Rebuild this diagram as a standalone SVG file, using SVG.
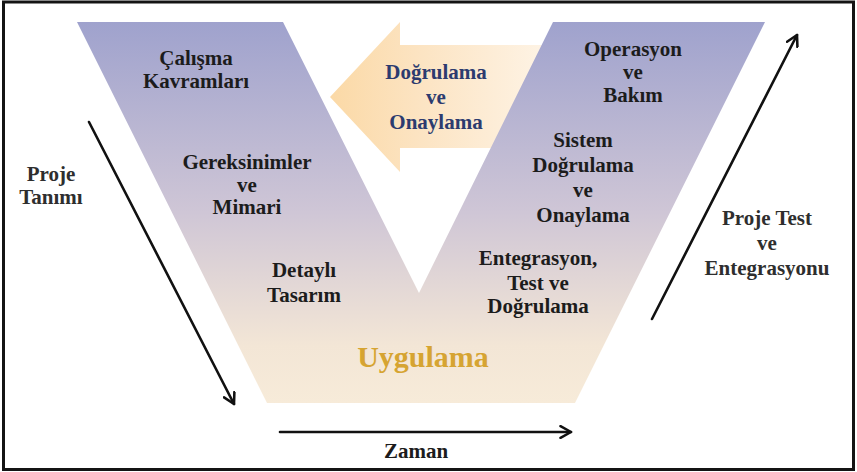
<svg xmlns="http://www.w3.org/2000/svg" width="857" height="472" viewBox="0 0 857 472">
  <style>
    .lbl { font-family: "Liberation Serif", "Times New Roman", serif; font-weight: bold; font-size: 21px; text-anchor: middle; fill: #1c1c1c; }
    .side { fill: #2e2e2e; }
    .blue { fill: #2c3b6f; }
    .gold { fill: #d6a432; font-size: 30px; }
    .conn { stroke: #111; stroke-width: 2.6; fill: none; stroke-linecap: round; }
  </style>
  <defs>
    <linearGradient id="vFill" x1="0" y1="22" x2="0" y2="403" gradientUnits="userSpaceOnUse">
      <stop offset="0" stop-color="#9fa2cd"/>
      <stop offset="0.5" stop-color="#cfc6d6"/>
      <stop offset="0.85" stop-color="#f3e6d6"/>
      <stop offset="1" stop-color="#f7ebd9"/>
    </linearGradient>
    <linearGradient id="arrowFill" x1="330" y1="0" x2="560" y2="0" gradientUnits="userSpaceOnUse">
      <stop offset="0" stop-color="#fbd9a6"/>
      <stop offset="0.4" stop-color="#fce4c3"/>
      <stop offset="1" stop-color="#fef5e9"/>
    </linearGradient>
    <marker id="open" viewBox="0 0 12 12" refX="10" refY="6" markerWidth="14" markerHeight="14" markerUnits="userSpaceOnUse" orient="auto">
      <path d="M1,1 L10,6 L1,11" fill="none" stroke="#111" stroke-width="2.2" stroke-linecap="round" stroke-linejoin="round"/>
    </marker>
  </defs>

  <rect x="0" y="0" width="857" height="472" fill="#ffffff"/>
  <rect x="3.5" y="2" width="850" height="467.5" fill="none" stroke="#141414" stroke-width="3"/>

  <!-- feedback arrow between the two arms -->
  <g id="dogrulama-onaylama">
    <polygon points="330,97 400,22 400,45 560,45 560,148 400,148 400,172" fill="url(#arrowFill)"/>
  </g>

  <!-- V shape -->
  <g id="v-model">
    <polygon points="77,22 283,22 419,293 553,22 765,22 575,403 267,403" fill="url(#vFill)"/>
  </g>

  <g id="dogrulama-text">
    <text class="lbl blue" x="436" y="79">Doğrulama</text>
    <text class="lbl blue" x="436" y="104">ve</text>
    <text class="lbl blue" x="436" y="129">Onaylama</text>
  </g>

  <g id="calisma-kavramlari">
    <text class="lbl" x="196" y="65">Çalışma</text>
    <text class="lbl" x="196" y="88">Kavramları</text>
  </g>

  <g id="gereksinimler-mimari">
    <text class="lbl" x="247" y="169">Gereksinimler</text>
    <text class="lbl" x="247" y="192">ve</text>
    <text class="lbl" x="247" y="214">Mimari</text>
  </g>

  <g id="detayli-tasarim">
    <text class="lbl" x="304" y="277">Detaylı</text>
    <text class="lbl" x="304" y="302">Tasarım</text>
  </g>

  <g id="uygulama">
    <text class="lbl gold" x="423" y="367">Uygulama</text>
  </g>

  <g id="entegrasyon-test">
    <text class="lbl" x="538" y="265">Entegrasyon,</text>
    <text class="lbl" x="538" y="290">Test ve</text>
    <text class="lbl" x="538" y="313">Doğrulama</text>
  </g>

  <g id="sistem-dogrulama">
    <text class="lbl" x="583" y="147">Sistem</text>
    <text class="lbl" x="583" y="172">Doğrulama</text>
    <text class="lbl" x="583" y="197">ve</text>
    <text class="lbl" x="583" y="222">Onaylama</text>
  </g>

  <g id="operasyon-bakim">
    <text class="lbl" x="633" y="56">Operasyon</text>
    <text class="lbl" x="633" y="79">ve</text>
    <text class="lbl" x="633" y="102">Bakım</text>
  </g>

  <g id="proje-tanimi">
    <text class="lbl side" x="51" y="181">Proje</text>
    <text class="lbl side" x="51" y="204">Tanımı</text>
  </g>

  <g id="proje-test">
    <text class="lbl side" x="767" y="225">Proje Test</text>
    <text class="lbl side" x="767" y="250">ve</text>
    <text class="lbl side" x="767" y="275">Entegrasyonu</text>
  </g>

  <g id="zaman">
    <text class="lbl" x="416" y="458">Zaman</text>
  </g>

  <!-- connectors -->
  <g id="connectors">
    <line class="conn" x1="89" y1="122" x2="234" y2="404" marker-end="url(#open)"/>
    <line class="conn" x1="652" y1="319" x2="797" y2="35" marker-end="url(#open)"/>
    <line class="conn" x1="280" y1="432" x2="571" y2="432" marker-end="url(#open)"/>
  </g>
</svg>
